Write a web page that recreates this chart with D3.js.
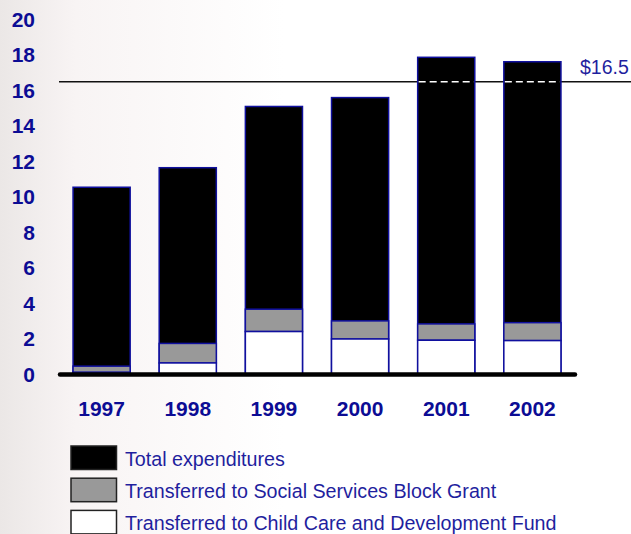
<!DOCTYPE html>
<html>
<head>
<meta charset="utf-8">
<script src="https://cdn.jsdelivr.net/npm/d3@7"></script>
<style>
  html, body { margin: 0; padding: 0; background: #fff; }
  svg { display: block; }
</style>
</head>
<body>
<svg id="chart" width="631" height="534"></svg>
<script>
// Fiscal years
const years = ["1997", "1998", "1999", "2000", "2001", "2002"];
// Total expenditures (billions of dollars), full bar height
const totalExpenditures = [10.55, 11.65, 15.1, 15.6, 17.87, 17.62];
// Amount transferred to the Social Services Block Grant
const ssbgTransfers = [0.35, 1.1, 1.26, 1.02, 0.92, 1.01];
// Amount transferred to the Child Care and Development Fund
const ccdfTransfers = [0.12, 0.65, 2.42, 2.0, 1.93, 1.91];
// Reference level marked across the chart
const referenceLevel = 16.5;
const referenceLabel = "$16.5";
const yTicks = [0, 2, 4, 6, 8, 10, 12, 14, 16, 18, 20];
const legendLabels = [
  "Total expenditures",
  "Transferred to Social Services Block Grant",
  "Transferred to Child Care and Development Fund"
];

const navy = "#0c0c94";
const barStroke = "#10109e";
const legendBlue = "#1f1f9e";
const font = "Liberation Sans, Arial, sans-serif";

const svg = d3.select("#chart");

// Soft slide-style background shading on the left edge
const defs = svg.append("defs");
const grad = defs.append("linearGradient").attr("id", "bgShade")
  .attr("x1", 0).attr("x2", 1).attr("y1", 0).attr("y2", 0);
grad.append("stop").attr("offset", 0).attr("stop-color", "#ebe7e6");
grad.append("stop").attr("offset", 0.12).attr("stop-color", "#f8f4f4");
grad.append("stop").attr("offset", 0.45).attr("stop-color", "#ffffff");
svg.append("rect").attr("width", 631).attr("height", 534).attr("fill", "url(#bgShade)");

const x = d3.scaleBand()
  .domain(years)
  .range([59, 575])
  .paddingInner(0.337)
  .paddingOuter(0.163);

const y = d3.scaleLinear().domain([0, 20]).range([374.5, 19.5]);

const rows = years.map((yr, i) => ({
  year: yr,
  total: totalExpenditures[i],
  ssbg: ssbgTransfers[i],
  ccdf: ccdfTransfers[i]
}));

// Reference line behind the bars
svg.append("line")
  .attr("x1", 59).attr("x2", 631)
  .attr("y1", y(referenceLevel)).attr("y2", y(referenceLevel))
  .attr("stroke", "#111").attr("stroke-width", 1.5);

const bars = svg.append("g");

// Total expenditures (black, full height)
bars.selectAll("rect.total").data(rows).join("rect")
  .attr("class", "total")
  .attr("x", d => x(d.year))
  .attr("width", x.bandwidth())
  .attr("y", d => y(d.total))
  .attr("height", d => y(0) - y(d.total))
  .attr("fill", "#000")
  .attr("stroke", barStroke).attr("stroke-width", 1.5);

// Transfers to SSBG (gray), stacked above the CCDF transfers
bars.selectAll("rect.ssbg").data(rows).join("rect")
  .attr("class", "ssbg")
  .attr("x", d => x(d.year))
  .attr("width", x.bandwidth())
  .attr("y", d => y(d.ccdf + d.ssbg))
  .attr("height", d => y(d.ccdf) - y(d.ccdf + d.ssbg))
  .attr("fill", "#999")
  .attr("stroke", barStroke).attr("stroke-width", 1.5);

// Transfers to CCDF (white), at the base
bars.selectAll("rect.ccdf").data(rows).join("rect")
  .attr("class", "ccdf")
  .attr("x", d => x(d.year))
  .attr("width", x.bandwidth())
  .attr("y", d => y(d.ccdf))
  .attr("height", d => y(0) - y(d.ccdf))
  .attr("fill", "#fff")
  .attr("stroke", barStroke).attr("stroke-width", 1.5);

// Dashed white continuation of the reference line across bars that exceed it
bars.selectAll("line.ref").data(rows.filter(d => d.total > referenceLevel)).join("line")
  .attr("class", "ref")
  .attr("x1", d => x(d.year) + 1).attr("x2", d => x(d.year) + x.bandwidth() - 1)
  .attr("y1", y(referenceLevel)).attr("y2", y(referenceLevel))
  .attr("stroke", "#fff").attr("stroke-width", 1.5)
  .attr("stroke-dasharray", "7,4");

svg.append("text")
  .attr("x", 580).attr("y", y(referenceLevel) - 8)
  .attr("font-family", font)
  .attr("font-size", 19.5)
  .attr("fill", legendBlue)
  .text(referenceLabel);

// Baseline
svg.append("line")
  .attr("x1", 60).attr("x2", 575)
  .attr("y1", y(0)).attr("y2", y(0))
  .attr("stroke", "#000").attr("stroke-width", 4.5)
  .attr("stroke-linecap", "round");

// Y axis labels
const yAxis = svg.append("g")
  .attr("transform", "translate(59,0)")
  .call(d3.axisLeft(y).tickValues(yTicks).tickSize(0).tickPadding(24).tickFormat(d3.format("d")));
yAxis.select(".domain").remove();
yAxis.selectAll("text")
  .attr("font-family", font)
  .attr("font-size", 21)
  .attr("font-weight", "bold")
  .attr("fill", navy);

// X axis labels
const xAxis = svg.append("g")
  .attr("transform", "translate(0,399)")
  .call(d3.axisBottom(x).tickSize(0).tickPadding(0));
xAxis.select(".domain").remove();
xAxis.selectAll("text")
  .attr("dy", "0.8em")
  .attr("font-family", font)
  .attr("font-size", 21)
  .attr("font-weight", "bold")
  .attr("fill", navy);

// Legend
const legendFills = ["#000", "#999", "#fff"];
const legend = svg.append("g").attr("transform", "translate(71,446)");
const item = legend.selectAll("g").data(legendLabels).join("g")
  .attr("transform", (d, i) => `translate(0,${i * 32.2})`);
item.append("rect")
  .attr("width", 45.5).attr("height", 23.5)
  .attr("fill", (d, i) => legendFills[i])
  .attr("stroke", "#222").attr("stroke-width", 1.5);
item.append("text")
  .attr("x", 54).attr("y", 19.5)
  .attr("font-family", font)
  .attr("font-size", 19.7)
  .attr("fill", legendBlue)
  .text(d => d);
</script>
</body>
</html>
